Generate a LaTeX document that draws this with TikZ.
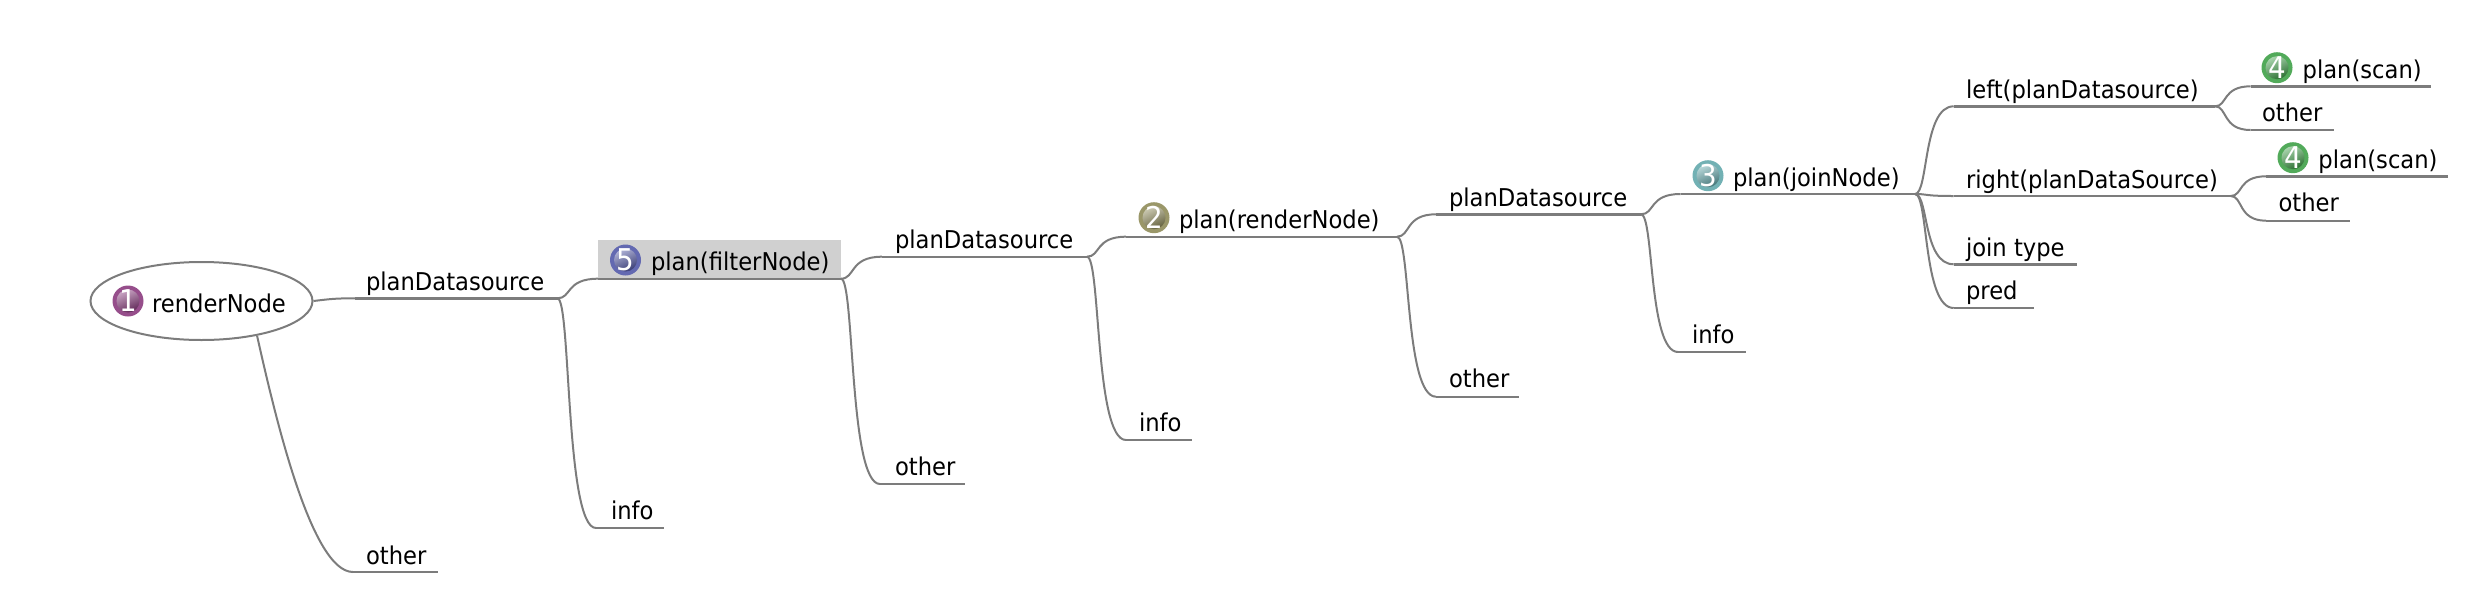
\documentclass[tikz,border=0pt]{standalone}
\usepackage{fontspec}
\setmainfont[FakeStretch=0.925]{DejaVu Sans}
\usetikzlibrary{calc,shapes.geometric}
\definecolor{linec}{HTML}{7C7C7C}
\definecolor{hl}{HTML}{D0D0D0}
\definecolor{ballA}{HTML}{8A3A7E}
\definecolor{ballB}{HTML}{8F8B58}
\definecolor{ballC}{HTML}{62A8AC}
\definecolor{ballD}{HTML}{3FA048}
\definecolor{ballE}{HTML}{5258A8}
\tikzset{
  conn/.style={draw=linec,line width=2pt},
  under/.style={draw=linec,line width=2.4pt},
  label/.style={anchor=base west,inner sep=0pt,outer sep=0pt,font=\fontsize{24.5}{27}\selectfont,text=black},
  numb/.style={font=\fontsize{30}{32}\selectfont,text=white,inner sep=0pt},
}
% name, x-left, x-right, y-line, x-text, y-base, text
\newcommand{\topic}[7]{%
  \coordinate (#1-l) at (#2,#4);
  \coordinate (#1-r) at (#3,#4);
  \node[label] (#1) at (#5,#6) {#7};
  \draw[under] (#1-l) -- (#1-r);
}
% parent, child : mindmap branch
\newcommand{\branch}[2]{%
  \draw[conn] let \p1=(#1),\p2=(#2) in (\p1) .. controls ({\x1+0.35*(\x2-\x1)},\y1) and ({\x1+0.2*(\x2-\x1)},\y2) .. (\p2);
}
% name, x, y, colour, digit
\newcommand{\ball}[5]{%
  \fill[#4!90!white] (#2,#3) circle (15.5);
  \shade[left color=#4!45!white,right color=#4!70!black,shading angle=25] (#2,#3) circle (11.5);
  \node[numb] (#1) at (#2,#3) {#5};
}
\begin{document}
\begin{tikzpicture}[x=1pt,y=-1pt]
\useasboundingbox (0,0) rectangle (2474,614);
% highlight
\fill[hl] (598,240) rectangle (841,278.7);
% root
\node[draw=linec,line width=2pt,ellipse,minimum width=222pt,minimum height=78pt,inner sep=0pt] (root) at (201.5,301) {};
\node[label] (roott) at (152,312) {renderNode};
\ball{i1}{128}{301}{ballA}{1}
% topics
\topic{pd1}{355}{557.5}{298.3}{366}{290}{planDatasource}
\topic{ot1}{353}{437.5}{572}{366}{564}{other}
\topic{in1}{596}{663.6}{528}{611}{519}{info}
\topic{fn}{598}{841}{278.7}{651}{270}{plan(filterNode)}
\ball{i5}{625.5}{260}{ballE}{5}
\topic{pd2}{882}{1087}{256.7}{895}{248}{planDatasource}
\topic{ot2}{880}{965}{484}{895}{475.7}{other}
\topic{rn}{1126}{1397}{236.7}{1179}{228}{plan(renderNode)}
\ball{i2}{1154}{217.7}{ballB}{2}
\topic{in2}{1126}{1191.5}{440}{1139}{431.7}{info}
\topic{pd3}{1436}{1641}{214.3}{1449}{206}{planDatasource}
\topic{ot3}{1436}{1519}{396.7}{1449}{387.7}{other}
\topic{jn}{1680.5}{1915}{194}{1733}{186.7}{plan(joinNode)}
\ball{i3}{1708}{175.7}{ballC}{3}
\topic{in3}{1678}{1746}{352}{1692}{343}{info}
\topic{lf}{1953.7}{2215}{106.3}{1966}{98}{left(planDatasource)}
\topic{rg}{1953.7}{2230.7}{196}{1966}{188}{right(planDataSource)}
\topic{jt}{1953.7}{2077}{264.3}{1966}{256.7}{join type}
\topic{pr}{1953.7}{2033.6}{308}{1966}{299}{pred}
\topic{sa}{2250.6}{2431.4}{86.3}{2302.6}{78}{plan(scan)}
\ball{i4a}{2277}{67.7}{ballD}{4}
\topic{oa}{2250.6}{2334}{130}{2262}{121.7}{other}
\topic{sb}{2266}{2447.7}{176.3}{2318.4}{168}{plan(scan)}
\ball{i4b}{2293}{157.7}{ballD}{4}
\topic{ob}{2266}{2350}{220.7}{2278.5}{211.7}{other}
% connectors
\draw[conn] (root.east) .. controls +(17,-2) and ($(pd1-l)+(-20,0)$) .. (pd1-l);
\draw[conn] (root.-32) .. controls +(19,85) and ($(ot1-l)+(-41,0)$) .. (ot1-l);
\branch{pd1-r}{fn-l}
\branch{pd1-r}{in1-l}
\branch{fn-r}{pd2-l}
\branch{fn-r}{ot2-l}
\branch{pd2-r}{rn-l}
\branch{pd2-r}{in2-l}
\branch{rn-r}{pd3-l}
\branch{rn-r}{ot3-l}
\branch{pd3-r}{jn-l}
\branch{pd3-r}{in3-l}
\branch{jn-r}{lf-l}
\branch{jn-r}{rg-l}
\branch{jn-r}{jt-l}
\branch{jn-r}{pr-l}
\branch{lf-r}{sa-l}
\branch{lf-r}{oa-l}
\branch{rg-r}{sb-l}
\branch{rg-r}{ob-l}
\end{tikzpicture}
\end{document}
